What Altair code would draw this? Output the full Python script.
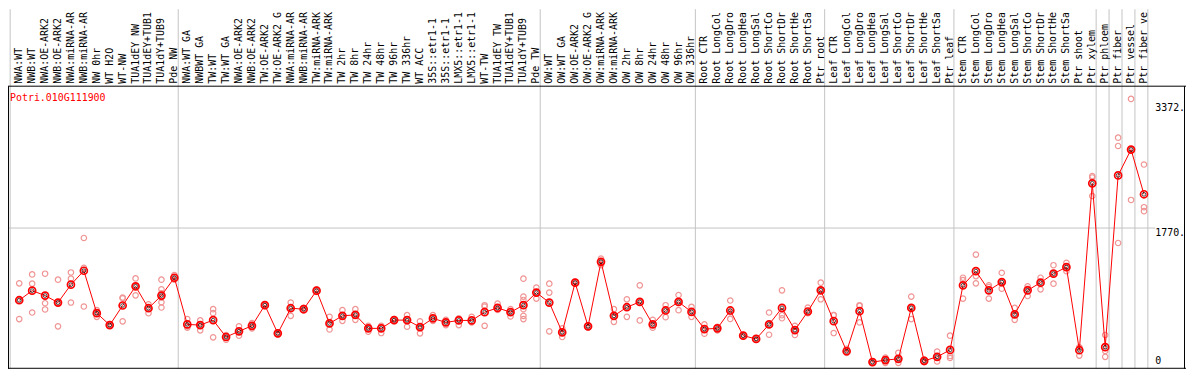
import altair as alt
import pandas as pd

gene_name = "Potri.010G111900"

labels = [
    "NWA:WT", "NWB:WT", "NWA:OE-ARK2", "NWB:OE-ARK2", "NWA:miRNA-ARK2", "NWB:miRNA-ARK2",
    "NW 0hr", "WT H2O", "WT-NW", "TUA1dEY NW", "TUA1dEY+TUB15 NW", "TUA1dY+TUB9 NW", "Pde NW",
    "NWA:WT GA", "NWBWT GA", "TW:WT", "TW:WT GA", "NWA:OE-ARK2 GA", "NWB:OE-ARK2 GA",
    "TW:OE-ARK2", "TW:OE-ARK2 GA", "NWA:miRNA-ARK2 GA", "NWB:miRNA-ARK2 GA", "TW:miRNA-ARK2",
    "TW:miRNA-ARK2 GA", "TW 2hr", "TW 8hr", "TW 24hr", "TW 48hr", "TW 96hr", "TW 336hr", "WT ACC",
    "35S::etr1-1 H2O", "35S::etr1-1 ACC", "LMX5::etr1-1 H2O", "LMX5::etr1-1 ACC", "WT-TW",
    "TUA1dEY TW", "TUA1dEY+TUB15 TW", "TUA1dY+TUB9 TW", "Pde TW",
    "OW:WT", "OW:WT GA", "OW:OE-ARK2", "OW:OE-ARK2 GA", "OW:miRNA-ARK2", "OW:miRNA-ARK2 GA",
    "OW 2hr", "OW 8hr", "OW 24hr", "OW 48hr", "OW 96hr", "OW 336hr",
    "Root CTR", "Root LongCold", "Root LongDrought", "Root LongHeat", "Root LongSalt",
    "Root ShortCold", "Root ShortDrought", "Root ShortHeat", "Root ShortSalt", "Ptr root",
    "Leaf CTR", "Leaf LongCold", "Leaf LongDrought", "Leaf LongHeat", "Leaf LongSalt",
    "Leaf ShortCold", "Leaf ShortDrought", "Leaf ShortHeat", "Leaf ShortSalt", "Ptr leaf",
    "Stem CTR", "Stem LongCold", "Stem LongDrought", "Stem LongHeat", "Stem LongSalt",
    "Stem ShortCold", "Stem ShortDrought", "Stem ShortHeat", "Stem ShortSalt", "Ptr shoot", "Ptr xylem",
    "Ptr phloem", "Ptr fiber", "Ptr vessel", "Ptr fiber vessel",
]

means = [
    842, 965, 902, 812, 1042, 1221, 676, 522, 774, 1020, 739, 902, 1131,
    531, 522, 586, 369, 442, 513, 778, 416, 739, 727, 965, 544, 641, 654, 480, 480,
    586, 586, 497, 608, 557, 582, 582, 688, 743, 688, 778, 940,
    812, 429, 1068, 506, 1336, 641, 752, 820, 531, 710, 820, 692,
    471, 480, 710, 386, 344, 531, 743, 458, 697, 969,
    573, 186, 701, 46, 72, 88, 743, 63, 114, 203,
    1033, 1216, 969, 1075, 659, 969, 1068, 1183, 1267, 199, 2345,
    238, 2447, 2779, 2204,
]

replicates = [
    [1059, 842, 599], [1174, 1055, 684], [1183, 803, 723], [1106, 812, 506],
    [1199, 1119, 812], [1642, 1259, 761], [714, 676, 628], [535, 522, 513],
    [876, 867, 570], [1122, 1020, 905], [790, 739, 676],
    [1106, 982, 931, 876, 816, 748], [1165, 1122, 1106],
    [599, 506, 488], [582, 522, 455], [727, 676, 365], [395, 369, 335],
    [506, 442, 386], [548, 513, 480], [790, 778, 766], [429, 416, 403],
    [812, 739, 641], [745, 727, 710], [980, 965, 950], [628, 544, 467],
    [714, 641, 577], [727, 654, 590], [513, 480, 437], [513, 507, 420],
    [600, 586, 572], [650, 586, 501], [570, 497, 416], [650, 608, 577],
    [590, 557, 522], [610, 599, 522], [628, 560, 558], [778, 761, 513],
    [799, 743, 718], [727, 688, 633], [1119, 889, 845, 727, 641, 599], [1004, 940, 863],
    [1055, 940, 442], [480, 438, 369], [1080, 1068, 1056], [520, 506, 492],
    [1378, 1336, 1292], [727, 641, 564], [854, 752, 628], [1033, 820, 582],
    [590, 531, 488], [778, 710, 624], [909, 820, 714], [756, 692, 628],
    [531, 471, 411], [500, 485, 455], [838, 690, 602], [395, 386, 377],
    [355, 344, 333], [684, 531, 398], [969, 650, 610], [513, 458, 395],
    [748, 697, 676], [1068, 969, 854],
    [650, 650, 420], [216, 186, 165], [778, 768, 557], [50, 46, 42],
    [105, 72, 37], [165, 88, 37], [889, 743, 599], [79, 63, 46],
    [181, 114, 54], [386, 124, 99],
    [1131, 1100, 863], [1429, 1152, 1059], [1033, 1010, 863], [1195, 1075, 991],
    [743, 659, 590], [1020, 990, 896], [1131, 1068, 982], [1292, 1183, 1055],
    [1323, 1267, 1216], [232, 235, 130], [2438, 2420, 2182],
    [395, 190, 114], [2932, 2825, 1578], [3430, 2779, 2131], [2587, 2038, 1987],
]

group_starts = [0, 13, 41, 53, 63, 73, 84, 85, 86, 87, 88]
tick_values = [3372, 1770]
tick_labels = ["3372.", "1770."]
zero_value = [0]
zero_label = ["0"]
grid_value = [1770]

W, H = 1186, 362
FONT = "DejaVu Sans Mono"

mean_df = pd.DataFrame({"idx": list(range(len(labels))), "label": labels, "mean": means})
rep_rows = []
for i, vals in enumerate(replicates):
    for v in vals:
        rep_rows.append({"idx": i, "value": v})
rep_df = pd.DataFrame(rep_rows)
grid_df = pd.DataFrame({"start": group_starts})
tick_df = pd.DataFrame({"v": tick_values, "t": tick_labels})
zero_df = pd.DataFrame({"v": zero_value, "t": zero_label})
hgrid_df = pd.DataFrame({"v": grid_value})
gene_df = pd.DataFrame({"t": [gene_name]})

xs = alt.Scale(domain=[-0.868, 90.25], nice=False, zero=False)
ys = alt.Scale(domain=[-39.6, 4583.6], nice=False, zero=False)

vgrid = alt.Chart(grid_df).transform_calculate(xg="datum.start - 0.7").mark_rule(
    color="#c4c4c4", strokeWidth=1
).encode(x=alt.X("xg:Q", scale=xs, axis=None))

hgrid = alt.Chart(hgrid_df).mark_rule(color="#c4c4c4", strokeWidth=1).encode(
    y=alt.Y("v:Q", scale=ys, axis=None), x=alt.value(0), x2=alt.value(1155)
)

frame_h = alt.Chart(pd.DataFrame({"p": [77.5, 361.5]})).mark_rule(color="black", strokeWidth=1).encode(
    y=alt.Y("p:Q", scale=None), x=alt.value(0), x2=alt.value(W)
)
frame_v = alt.Chart(pd.DataFrame({"p": [0.5, 1184.5]})).mark_rule(color="black", strokeWidth=1).encode(
    x=alt.X("p:Q", scale=None), y=alt.value(77.5), y2=alt.value(H)
)

reps = alt.Chart(rep_df).mark_point(
    shape="circle", filled=False, color="#f09494", size=30, strokeWidth=1.2, opacity=1
).encode(x=alt.X("idx:Q", scale=xs, axis=None), y=alt.Y("value:Q", scale=ys, axis=None))

line = alt.Chart(mean_df).mark_line(color="#ff0000", strokeWidth=1).encode(
    x=alt.X("idx:Q", scale=xs, axis=None), y=alt.Y("mean:Q", scale=ys, axis=None)
)

mean_pts = alt.Chart(mean_df).mark_point(
    shape="circle", filled=False, color="#ff0000", size=50, strokeWidth=1.7, opacity=1
).encode(x=alt.X("idx:Q", scale=xs, axis=None), y=alt.Y("mean:Q", scale=ys, axis=None))

mean_inner = alt.Chart(mean_df).mark_point(
    shape="circle", filled=False, color="#000000", size=14, strokeWidth=0.7, opacity=1
).encode(x=alt.X("idx:Q", scale=xs, axis=None), y=alt.Y("mean:Q", scale=ys, axis=None))

header = alt.Chart(mean_df).mark_text(
    angle=270, align="left", baseline="middle", font=FONT, fontSize=10, color="black",
    limit=76, ellipsis="\u200b"
).encode(x=alt.X("idx:Q", scale=xs, axis=None), y=alt.value(75), text="label:N")

gene = alt.Chart(gene_df).mark_text(
    align="left", baseline="middle", font=FONT, fontSize=10, color="#ff0000"
).encode(x=alt.value(2), y=alt.value(89), text="t:N")

ticks = alt.Chart(tick_df).mark_text(
    align="left", baseline="top", font=FONT, fontSize=10, color="black"
).encode(x=alt.value(1155), y=alt.Y("v:Q", scale=ys, axis=None), text="t:N")

zero_tick = alt.Chart(zero_df).mark_text(
    align="left", baseline="bottom", font=FONT, fontSize=10, color="black"
).encode(x=alt.value(1155), y=alt.Y("v:Q", scale=ys, axis=None), text="t:N")

chart = alt.layer(
    vgrid, hgrid, reps, line, mean_pts, mean_inner, frame_h, frame_v, header, gene, ticks, zero_tick
).properties(
    width=W, height=H, autosize=alt.AutoSizeParams(type="none"), padding=0
).configure_view(stroke="transparent")

chart.save("out.html", embed_options={"renderer": "svg", "actions": False})
